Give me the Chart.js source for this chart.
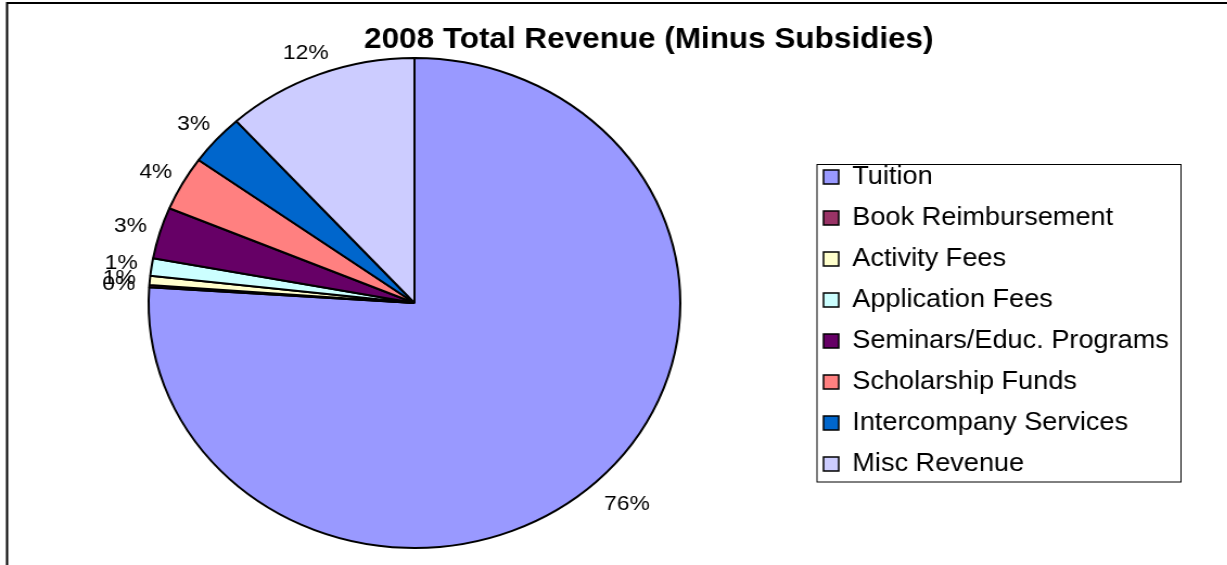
<!DOCTYPE html>
<html><head><meta charset="utf-8">
<script src="https://cdn.jsdelivr.net/npm/chart.js@4.4.1/dist/chart.umd.min.js"></script>
<style>
html,body{margin:0;padding:0;background:#fff;overflow:hidden;}
#wrap{position:absolute;left:0;top:0;width:1131px;height:565px;transform:scaleX(1.085);transform-origin:0 0;}
canvas{display:block;}
</style></head><body>
<div id="wrap"><canvas id="c" width="1131" height="565" style="width:1131px;height:565px"></canvas></div>
<script>
const titleText = '2008 Total Revenue (Minus Subsidies)';
const categories = ['Tuition','Book Reimbursement','Activity Fees','Application Fees','Seminars/Educ. Programs','Scholarship Funds','Intercompany Services','Misc Revenue'];
const shares = [76.1, 0.15, 0.6, 1.15, 3.4, 3.6, 3.4, 11.7];
const colors = ['#9999FF','#993366','#FFFFCC','#CCFFFF','#660066','#FF8080','#0066CC','#CCCCFF'];

const FONT = '"Liberation Sans", Arial, sans-serif';

const frame = {
  id: 'frame',
  beforeDraw(chart){
    const ctx = chart.ctx;
    ctx.save();
    ctx.fillStyle = '#fff';
    ctx.fillRect(0,0,chart.width,chart.height);
    ctx.strokeStyle = '#000';
    ctx.lineWidth = 2;
    ctx.beginPath();
    ctx.moveTo(6.5, 566); ctx.lineTo(6.5, 3); ctx.lineTo(1131, 3);
    ctx.stroke();
    ctx.lineWidth = 1;
    ctx.strokeRect(753, 164.5, 335.5, 317.5);
    ctx.restore();
  }
};

const placer = {
  id: 'placer',
  afterLayout(chart){
    const bw = 2, cx = 382, cy = 303, R = 245;
    chart.chartArea = {left: cx-R-bw/2, top: cy-R-bw/2, right: cx+R+bw/2, bottom: cy+R+bw/2, width: 2*R+bw, height: 2*R+bw};
    const t = chart.titleBlock;
    t.left = 198; t.right = 998; t.width = 800;
    t.top = 23; t.bottom = 58; t.height = 35;
    const l = chart.legend;
    l.left = 743; l.right = 1110; l.width = 367;
    l.top = 148.5; l.bottom = 560; l.height = 411.5;
  }
};

const pctLabels = {
  id: 'pctLabels',
  afterDatasetsDraw(chart){
    const ctx = chart.ctx;
    const meta = chart.getDatasetMeta(0);
    const total = shares.reduce((a,b)=>a+b,0);
    ctx.save();
    ctx.font = '21px ' + FONT;
    ctx.fillStyle = '#000';
    ctx.textAlign = 'center';
    ctx.textBaseline = 'middle';
    meta.data.forEach((arc,i)=>{
      const p = arc.getProps(['startAngle','endAngle','x','y','outerRadius'], true);
      const mid = (p.startAngle + p.endAngle)/2;
      const dx = Math.cos(mid), dy = Math.sin(mid);
      const txt = Math.round(shares[i]/total*100) + '%';
      const w = ctx.measureText(txt).width, h = 20;
      const r = p.outerRadius + 13 + 10*Math.max(0, dy);
      ctx.fillText(txt, p.x + dx*r + dx*w/2, p.y + dy*r + dy*h/2);
    });
    ctx.restore();
  }
};

Chart.defaults.color = '#000';
Chart.defaults.font.family = FONT;

new Chart(document.getElementById('c'), {
  type: 'pie',
  data: {
    labels: categories,
    datasets: [{
      data: shares,
      backgroundColor: colors,
      borderColor: '#000',
      borderWidth: 2,
      clip: false
    }]
  },
  options: {
    responsive: false,
    animation: false,
    devicePixelRatio: 1,
    events: [],
    layout: {padding: 0},
    plugins: {
      tooltip: {enabled: false},
      title: {
        display: true,
        text: titleText,
        color: '#000',
        font: {size: 29, weight: 'bold', family: FONT, lineHeight: 1.2},
        padding: 0
      },
      legend: {
        display: true,
        position: 'right',
        align: 'start',
        labels: {
          color: '#000',
          font: {size: 25, family: FONT},
          boxWidth: 14,
          boxHeight: 14,
          padding: 16,
          generateLabels(chart){
            const items = Chart.overrides.doughnut.plugins.legend.labels.generateLabels(chart);
            items.forEach(it => { it.lineWidth = 1.5; it.strokeStyle = '#000'; });
            return items;
          }
        }
      }
    }
  },
  plugins: [frame, placer, pctLabels]
});
</script>
</body></html>
